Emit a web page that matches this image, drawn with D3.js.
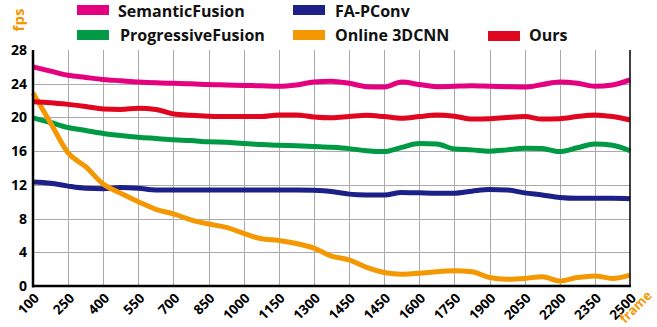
<!DOCTYPE html>
<html>
<head>
<meta charset="utf-8">
<script src="https://cdn.jsdelivr.net/npm/d3@7"></script>
<style>
  html, body { margin: 0; padding: 0; background: #fff; }
  svg { display: block; font-family: "Open Sans", "Noto Sans", sans-serif; font-weight: bold; }
</style>
</head>
<body>
<svg id="chart" width="657" height="327"></svg>
<script>
// ---- data ----
const xTickLabels = ["100","250","400","550","700","850","1000","1150","1300","1450","1450","1600","1750","1900","2050","2200","2350","2500"];
const yTicks = [0, 4, 8, 12, 16, 20, 24, 28];
const seriesNames = ["SemanticFusion", "ProgressiveFusion", "FA-PConv", "Online 3DCNN", "Ours"];
const seriesColors = ["#e4007f", "#009944", "#1d2088", "#f39800", "#e0061f"];
// samples every half category step (positions 0, 0.5, 1, ... 17 on the category axis)
const samplePos = d3.range(0, 17.001, 0.5);
const semanticFusion = [26.0,25.5,25.0,24.75,24.5,24.35,24.2,24.1,24.05,24.0,23.9,23.85,23.8,23.75,23.7,23.85,24.2,24.3,24.05,23.65,23.6,24.2,23.9,23.65,23.7,23.75,23.7,23.65,23.6,23.9,24.2,24.05,23.7,23.85,24.45];
const progressiveFusion = [19.95,19.4,18.8,18.45,18.1,17.85,17.65,17.5,17.35,17.25,17.1,17.05,16.9,16.8,16.7,16.65,16.55,16.45,16.3,16.05,15.95,16.45,16.9,16.85,16.25,16.15,16.0,16.15,16.35,16.3,15.95,16.4,16.85,16.7,16.05];
const faPConv = [12.35,12.2,11.85,11.6,11.55,11.7,11.6,11.4,11.4,11.4,11.4,11.4,11.4,11.4,11.4,11.4,11.35,11.2,10.9,10.8,10.8,11.1,11.05,11.0,11.0,11.25,11.45,11.4,11.05,10.8,10.5,10.4,10.4,10.4,10.35];
const online3DCNN = [22.9,19.35,15.8,14.15,12.1,11.0,10.0,9.1,8.55,7.85,7.35,6.95,6.25,5.6,5.4,5.05,4.5,3.55,3.1,2.2,1.6,1.4,1.5,1.7,1.8,1.7,1.0,0.8,0.9,1.1,0.6,1.0,1.2,0.9,1.3];
const ours = [21.85,21.75,21.55,21.3,21.0,20.95,21.1,20.95,20.4,20.25,20.15,20.1,20.1,20.1,20.3,20.3,20.05,19.95,20.1,20.25,20.1,19.9,20.1,20.3,20.15,19.8,19.85,20.0,20.1,19.8,19.85,20.1,20.3,20.1,19.7];
const seriesValues = [semanticFusion, progressiveFusion, faPConv, online3DCNN, ours];

// ---- layout ----
const svg = d3.select("#chart");
const pLeft = 33, pRight = 630, pTop = 50, pBottom = 286;
const x = d3.scaleLinear().domain([0, xTickLabels.length - 1]).range([pLeft, pRight]);
const y = d3.scaleLinear().domain([0, 28]).range([pBottom, pTop]);

// grid
const grid = svg.append("g").attr("stroke", "#aaaaaa").attr("stroke-width", 1).attr("shape-rendering", "crispEdges");
grid.selectAll("line.v").data(d3.range(1, xTickLabels.length - 1)).join("line")
  .attr("x1", d => Math.round(x(d)) + 0.5).attr("x2", d => Math.round(x(d)) + 0.5)
  .attr("y1", pTop).attr("y2", pBottom);
grid.selectAll("line.h").data(yTicks.filter(t => t > 0 && t < 28)).join("line")
  .attr("x1", pLeft).attr("x2", pRight)
  .attr("y1", d => Math.round(y(d)) + 0.5).attr("y2", d => Math.round(y(d)) + 0.5);

// lines
const line = d3.line().x((d, i) => x(samplePos[i])).y(d => y(d)).curve(d3.curveMonotoneX);
svg.append("g").selectAll("path").data(seriesValues).join("path")
  .attr("d", d => line(d))
  .attr("fill", "none")
  .attr("stroke", (d, i) => seriesColors[i])
  .attr("stroke-width", 5)
  .attr("stroke-linejoin", "round");

// axes frame
svg.append("line").attr("x1", pLeft).attr("x2", pLeft).attr("y1", pTop).attr("y2", pBottom + 1.5).attr("stroke", "#000").attr("stroke-width", 2.5);
svg.append("line").attr("x1", pLeft).attr("x2", pRight + 1).attr("y1", pBottom).attr("y2", pBottom).attr("stroke", "#000").attr("stroke-width", 2.5);
svg.append("line").attr("x1", pRight).attr("x2", pRight).attr("y1", pTop).attr("y2", pBottom).attr("stroke", "#000").attr("stroke-width", 1.5);

// y ticks
svg.append("g").selectAll("text").data(yTicks).join("text")
  .attr("x", 27).attr("y", d => y(d)).attr("dy", "0.36em")
  .attr("text-anchor", "end").attr("font-size", 14).attr("fill", "#000")
  .text(d => d);

// x ticks
svg.append("g").selectAll("text").data(xTickLabels).join("text")
  .attr("transform", (d, i) => `translate(${x(i) + 7},${pBottom + 13}) rotate(-45)`)
  .attr("text-anchor", "end").attr("font-size", 13.5).attr("fill", "#000")
  .text(d => d);

// axis titles
svg.append("text").attr("transform", "translate(24,20) rotate(-90)")
  .attr("text-anchor", "middle").attr("font-size", 15).attr("fill", "#f39800").text("fps");
svg.append("text").attr("transform", `translate(625,324) rotate(-45)`)
  .attr("text-anchor", "start").attr("font-size", 13).attr("fill", "#f39800").text("frame");

// legend
const legendPos = [[77, 5, 118, 17.3], [77, 30, 120, 40.5], [293, 5, 335, 17.3], [293, 30, 335, 40.5], [488, 31, 529, 40.5]];
const lg = svg.append("g");
seriesNames.forEach((name, i) => {
  const [sx, sy, tx, ty] = legendPos[i];
  lg.append("rect").attr("x", sx).attr("y", sy).attr("width", 32).attr("height", 10).attr("fill", seriesColors[i]);
  lg.append("text").attr("x", tx).attr("y", ty).attr("font-size", 16).attr("fill", "#111").text(name);
});
</script>
</body>
</html>
